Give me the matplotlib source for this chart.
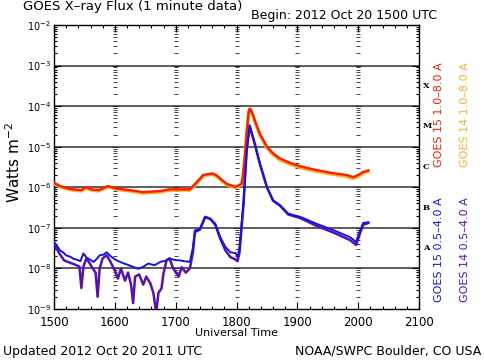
import matplotlib
matplotlib.use("Agg")
import matplotlib.pyplot as plt
import matplotlib.transforms as mtransforms

# time axis: minutes after 1500 UTC
t_long = [0, 6, 16, 27, 31, 37, 44, 53, 62, 75, 88, 105, 114, 134, 141, 147, 156, 160,
          170, 179, 185, 186, 188, 190, 191, 192, 193, 194, 196, 198, 203, 210, 216, 223,
          233, 243, 256, 272, 289, 295, 300, 305, 310]
goes15_long = [1.29e-6, 1.07e-6, 9.1e-7, 8.5e-7, 1.02e-6, 8.9e-7, 8.5e-7, 1.07e-6, 9.3e-7,
               8.5e-7, 7.6e-7, 8.1e-7, 8.9e-7, 8.9e-7, 1.35e-6, 2.0e-6, 2.2e-6, 2.0e-6,
               1.23e-6, 1.02e-6, 1.23e-6, 1.6e-6, 4.7e-6, 2.1e-5, 4.0e-5, 7.1e-5, 8.7e-5,
               8.3e-5, 6.3e-5, 4.5e-5, 2.1e-5, 1.0e-5, 6.9e-6, 5.1e-6, 4.0e-6, 3.3e-6,
               2.75e-6, 2.3e-6, 2.0e-6, 1.78e-6, 2.0e-6, 2.4e-6, 2.6e-6]
goes14_long = [1.22e-6, 1.02e-6, 8.7e-7, 8.1e-7, 9.7e-7, 8.5e-7, 8.1e-7, 1.02e-6, 8.9e-7,
               8.1e-7, 7.2e-7, 7.7e-7, 8.5e-7, 8.5e-7, 1.28e-6, 1.9e-6, 2.1e-6, 1.9e-6,
               1.17e-6, 9.7e-7, 1.17e-6, 1.5e-6, 4.4e-6, 2.0e-5, 3.8e-5, 6.8e-5, 8.3e-5,
               7.9e-5, 6.0e-5, 4.2e-5, 1.95e-5, 9.3e-6, 6.4e-6, 4.7e-6, 3.7e-6, 3.05e-6,
               2.55e-6, 2.15e-6, 1.85e-6, 1.66e-6, 1.86e-6, 2.25e-6, 2.45e-6]

t15_short = [0, 3, 6, 9, 12, 16, 19, 23, 26, 29, 32, 36, 39, 42, 45, 49, 52, 55, 57, 61,
             65, 70, 75, 79, 83, 88, 93, 99, 105, 110, 114, 119, 124, 129, 134, 137, 139,
             144, 149, 154, 159, 164, 169, 174, 179, 181, 183, 187, 190, 193, 198, 203,
             210, 216, 223, 231, 243, 259, 276, 292, 298, 302, 305, 310]
goes15_short = [4.5e-8, 3.6e-8, 2.75e-8, 2.5e-8, 2.1e-8, 1.95e-8, 1.74e-8, 1.62e-8,
                1.51e-8, 2.34e-8, 1.86e-8, 1.62e-8, 1.45e-8, 1.7e-8, 2.1e-8, 2.2e-8,
                2.5e-8, 2.1e-8, 1.9e-8, 1.62e-8, 1.45e-8, 1.3e-8, 1.17e-8, 1.07e-8,
                9.8e-9, 1.1e-8, 1.32e-8, 1.2e-8, 1.45e-8, 1.55e-8, 1.74e-8, 1.62e-8,
                1.58e-8, 1.5e-8, 1.45e-8, 3.2e-8, 8.7e-8, 9.5e-8, 1.9e-7, 1.7e-7,
                1.26e-7, 5.9e-8, 3.4e-8, 2.5e-8, 2.4e-8, 1.9e-8, 3.4e-8, 4.8e-7, 8.1e-6,
                3.4e-5, 1.2e-5, 3.9e-6, 1.02e-6, 4.8e-7, 3.6e-7, 2.24e-7, 1.86e-7,
                1.26e-7, 8.7e-8, 5.9e-8, 4.5e-8, 8.7e-8, 1.32e-7, 1.38e-7]

t14_short = [0, 5, 10, 15, 20, 25, 27, 29, 32, 37, 41, 43, 45, 48, 52, 56, 60, 63, 66, 70,
             73, 76, 78, 80, 84, 88, 91, 95, 98, 100, 101, 103, 106, 108, 111, 114, 117,
             120, 123, 126, 130, 134, 137, 139, 144, 149, 154, 159, 164, 169, 174, 179,
             181, 183, 187, 190, 193, 198, 203, 210, 216, 223, 231, 243, 259, 276, 292,
             298, 302, 305, 310]
goes14_short = [4.0e-8, 2.4e-8, 1.58e-8, 1.41e-8, 1.26e-8, 1.12e-8, 3.3e-9, 1.12e-8,
                1.78e-8, 1.12e-8, 7.9e-9, 2.0e-9, 1.0e-8, 1.78e-8, 2.1e-8, 1.41e-8, 8.9e-9,
                5.6e-9, 1.0e-8, 5.0e-9, 7.9e-9, 4.0e-9, 1.4e-9, 6.3e-9, 7.1e-9, 4.0e-9,
                6.3e-9, 4.3e-9, 2.5e-9, 1.12e-9, 9.1e-10, 2.5e-9, 3.2e-9, 7.6e-9, 1.58e-8,
                1.78e-8, 1.07e-8, 8.1e-9, 6.3e-9, 1.07e-8, 7.9e-9, 1.0e-8, 2.5e-8, 7.9e-8,
                9.1e-8, 1.82e-7, 1.66e-7, 1.2e-7, 5.4e-8, 2.8e-8, 1.9e-8, 1.66e-8, 1.51e-8,
                2.5e-8, 4.0e-7, 7.9e-6, 3.2e-5, 1.17e-5, 3.8e-6, 1.0e-6, 4.7e-7, 3.5e-7,
                2.14e-7, 1.74e-7, 1.12e-7, 7.6e-8, 5.0e-8, 3.8e-8, 7.6e-8, 1.2e-7, 1.32e-7]

hour_ticks = [0, 60, 120, 180, 240, 300, 360]
hour_labels = ["1500", "1600", "1700", "1800", "1900", "2000", "2100"]
decades = [1e-9, 1e-8, 1e-7, 1e-6, 1e-5, 1e-4, 1e-3, 1e-2]
decade_labels = ["$10^{-9}$", "$10^{-8}$", "$10^{-7}$", "$10^{-6}$",
                 "$10^{-5}$", "$10^{-4}$", "$10^{-3}$", "$10^{-2}$"]
class_labels = ["A", "B", "C", "M", "X"]
class_pos = [10**-7.5, 10**-6.5, 10**-5.5, 10**-4.5, 10**-3.5]

RED = "#ff1a00"
ORANGE = "#ffb020"
BLUE = "#1414e6"
PURPLE = "#5a0fb4"

fig = plt.figure(figsize=(4.84, 3.61), dpi=100)
ax = fig.add_axes([0.1116, 0.144, 0.7541, 0.7867])
ax.set_yscale("log")
ax.set_xlim(0, 360)
ax.set_ylim(1e-9, 1e-2)

# decade grid lines
for d in decades[1:-1]:
    ax.axhline(d, color="#505050", lw=1.3, zorder=1)

# little y tick marks repeated on every hour line
minor_pos = [m * d for d in decades[:-1] for m in range(2, 10)]
for h in hour_ticks[1:-1]:
    ax.plot([h] * len(minor_pos), minor_pos, ls="none", marker="_", ms=2.5,
            mew=0.6, color="#222222", zorder=1)
    ax.plot([h] * len(decades), decades, ls="none", marker="_", ms=4,
            mew=0.6, color="#222222", zorder=1)

ax.plot(t_long, goes14_long, color=ORANGE, lw=2.4, zorder=3)
ax.plot(t_long, goes15_long, color=RED, lw=1.7, zorder=4)
ax.plot(t14_short, goes14_short, color=PURPLE, lw=1.8, zorder=3)
ax.plot(t15_short, goes15_short, color=BLUE, lw=1.4, zorder=4)

ax.set_xticks(hour_ticks)
ax.set_xticklabels(hour_labels, fontsize=8.5)
ax.set_xticks(range(0, 361, 12), minor=True)
ax.set_yticks(decades)
ax.set_yticklabels(decade_labels, fontsize=7)
ax.tick_params(which="both", direction="in", top=True, right=True, color="black")
ax.tick_params(which="major", length=5, width=0.8)
ax.tick_params(which="minor", length=2.5, width=0.8)
ax.tick_params(axis="x", pad=5)
ax.tick_params(axis="y", pad=2)
for s in ax.spines.values():
    s.set_linewidth(1.0)

trans = mtransforms.blended_transform_factory(ax.transAxes, ax.transData)
for lab, y in zip(class_labels, class_pos):
    ax.text(1.01, y, lab, transform=trans, fontsize=6, fontweight="bold",
            family="DejaVu Serif", va="center", ha="left")

W, H = 484.0, 361.0
fig.text(23 / W, 1 - 10 / H, "GOES X–ray Flux (1 minute data)", fontsize=9.5,
         va="baseline", ha="left")
fig.text(437 / W, 1 - 19 / H, "Begin: 2012 Oct 20 1500 UTC", fontsize=9,
         va="baseline", ha="right")
fig.text(3 / W, 1 - 355 / H, "Updated 2012 Oct 20 2011 UTC", fontsize=9,
         va="baseline", ha="left")
fig.text(481 / W, 1 - 355 / H, "NOAA/SWPC Boulder, CO USA", fontsize=9,
         va="baseline", ha="right")
fig.text(236.5 / W, 1 - 333 / H, "Universal Time", fontsize=8, ha="center", va="center")
fig.text(14 / W, 1 - 163 / H, "Watts m$^{-2}$", fontsize=11, rotation=90,
         ha="center", va="center")

fig.text(439 / W, 1 - 115 / H, "GOES 15 1.0–8.0 A", color=RED, fontsize=8,
         rotation=90, ha="center", va="center")
fig.text(465 / W, 1 - 115 / H, "GOES 14 1.0–8.0 A", color=ORANGE, fontsize=8,
         rotation=90, ha="center", va="center")
fig.text(439 / W, 1 - 250 / H, "GOES 15 0.5–4.0 A", color=BLUE, fontsize=8,
         rotation=90, ha="center", va="center")
fig.text(465 / W, 1 - 250 / H, "GOES 14 0.5–4.0 A", color=PURPLE, fontsize=8,
         rotation=90, ha="center", va="center")

fig.savefig("out.png", dpi=100)
